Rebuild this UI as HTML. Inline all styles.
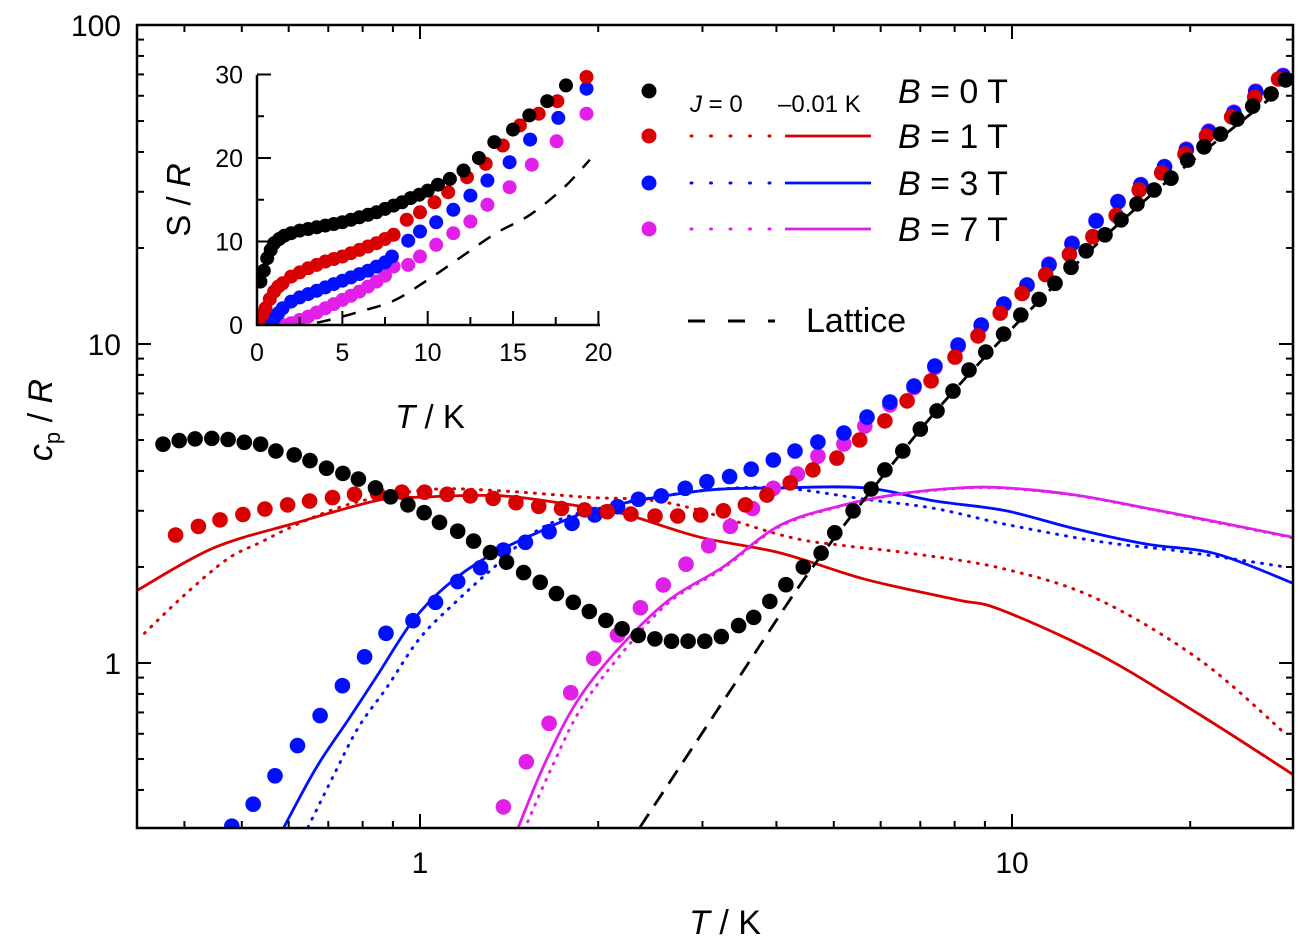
<!DOCTYPE html>
<html><head><meta charset="utf-8"><style>
body{margin:0;background:#fff;}
svg{display:block;font-family:"Liberation Sans",Arial,sans-serif;}
</style></head><body>
<svg id="chart" width="1301" height="944" viewBox="0 0 1301 944" xmlns="http://www.w3.org/2000/svg">
<defs>
<clipPath id="mainclip"><rect x="137" y="25" width="1156" height="803"/></clipPath>
<clipPath id="insetclip"><rect x="257" y="60" width="350" height="266"/></clipPath>
</defs>
<g id="main"></g>
<g id="inset"></g>
<g id="legend"></g>
</svg>
<script>
// ===== Main chart data (T in K, cp/R) =====
const b0T=[0.368,0.392,0.417,0.445,0.474,0.505,0.538,0.571,0.613,0.652,0.695,0.741,0.787,0.841,0.892,0.954,1.016,1.079,1.158,1.232,1.315,1.400,1.496,1.596,1.700,1.815,1.932,2.061,2.195,2.337,2.493,2.660,2.837,3.027,3.228,3.453,3.661,3.899,4.15,4.44,4.76,5.02,5.39,5.78,6.10,6.54,7.00,7.47,7.95,8.46,9.03,9.68,10.35,11.11,11.82,12.58,13.34,14.36,15.28,16.26,17.38,18.56,19.8,21.1,22.5,24.0,25.5,27.4,29.0];
const b0C=[4.85,4.98,5.04,5.06,5.02,4.92,4.85,4.62,4.49,4.31,4.08,3.93,3.77,3.54,3.32,3.13,2.96,2.76,2.59,2.41,2.22,2.07,1.92,1.79,1.65,1.55,1.45,1.36,1.28,1.22,1.19,1.17,1.17,1.17,1.21,1.31,1.39,1.56,1.76,2.00,2.21,2.56,3.00,3.51,4.03,4.62,5.41,6.17,7.12,8.29,9.44,10.75,12.33,13.8,15.5,17.4,19.6,22.0,24.5,27.5,30.4,33.1,37.7,41.5,45.5,50.7,55.7,60.8,67.3];
const b1T=[0.3865,0.4224,0.4594,0.5022,0.547,0.5976,0.651,0.7115,0.775,0.848,0.932,1.018,1.111,1.216,1.329,1.452,1.587,1.734,1.896,2.072,2.271,2.494,2.725,2.978,3.255,3.546,3.855,4.22,4.61,5.06,5.53,6.10,6.65,7.30,8.01,8.76,9.55,10.4,11.4,12.5,13.7,15.0,16.4,17.9,19.6,21.3,23.5,25.7,28.2];
const b1C=[2.52,2.68,2.81,2.92,3.04,3.13,3.22,3.30,3.38,3.40,3.43,3.43,3.38,3.34,3.28,3.18,3.10,3.05,3.02,2.98,2.93,2.89,2.89,2.91,3.00,3.13,3.36,3.67,4.03,4.39,5.00,5.74,6.63,7.66,9.10,10.6,12.5,14.4,16.5,19.1,21.7,25.3,30.4,34.4,39.4,44.9,51.5,59.4,67.7];
const b3T=[0.481,0.5226,0.569,0.621,0.678,0.7396,0.806,0.8762,0.973,1.062,1.158,1.266,1.383,1.507,1.652,1.806,1.973,2.156,2.338,2.555,2.805,3.052,3.334,3.626,3.951,4.30,4.70,5.20,5.69,6.22,6.83,7.41,8.11,8.87,9.69,10.6,11.55,12.63,13.87,15.1,16.5,18.1,19.7,21.5,23.7,25.8,28.7];
const b3C=[0.308,0.361,0.443,0.551,0.684,0.849,1.046,1.239,1.357,1.55,1.80,1.99,2.26,2.39,2.58,2.74,2.91,3.09,3.26,3.34,3.53,3.70,3.84,4.05,4.33,4.62,4.93,5.26,5.90,6.58,7.38,8.53,9.93,11.47,13.35,15.3,17.7,20.6,24.3,27.9,31.5,35.9,40.6,46.2,53.0,61.7,69.2];
const b7T=[1.383,1.512,1.652,1.797,1.966,2.156,2.357,2.576,2.814,3.074,3.345,3.644,3.951,4.34,4.70,5.20,5.64,6.22,6.83,7.41,8.11,8.87,9.69,10.6,11.55,12.63,13.87,15.1,16.5,18.1,19.7,21.5,23.7,25.8,28.7];
const b7C=[0.354,0.49,0.647,0.807,1.034,1.224,1.49,1.756,2.04,2.33,2.68,3.05,3.53,3.91,4.45,4.86,5.53,6.45,7.30,8.45,9.85,11.4,13.3,15.3,17.8,20.7,24.4,28.0,31.6,36.0,40.8,46.5,53.3,62.0,69.5];
// model curves
const r1SolidT=[0.333,0.447,0.617,0.852,1.0,1.381,1.907,2.246,2.97,4.07,5.65,8.04,9.55,14.08,20.8,29.9];
const r1SolidC=[1.69,2.29,2.75,3.24,3.31,3.34,3.08,2.91,2.48,2.21,1.83,1.58,1.47,1.06,0.687,0.446];
const r1DotT=[0.3425,0.3995,0.473,0.538,0.617,0.725,0.852,1.068,1.381,1.907,2.644,4.14,5.14,6.83,9.73,13.92,20.8,29.1];
const r1DotC=[1.24,1.63,2.12,2.39,2.71,3.06,3.31,3.51,3.46,3.31,3.17,2.50,2.34,2.20,1.97,1.59,1.02,0.595];
const b3SolidT=[0.588,0.669,0.762,0.852,0.969,1.102,1.298,1.576,1.907,2.353,3.10,4.07,5.65,7.41,9.77,12.83,16.84,22.1,29.8];
const b3SolidC=[0.304,0.472,0.677,0.930,1.344,1.73,2.15,2.56,2.97,3.24,3.49,3.54,3.54,3.22,3.00,2.63,2.36,2.20,1.78];
const b3DotT=[0.647,0.713,0.786,0.880,1.0,1.159,1.318,1.576,1.907,2.353,3.10,4.07,5.65,7.41,9.77,14.1,19.3,29.0];
const b3DotC=[0.306,0.44,0.626,0.841,1.198,1.576,1.957,2.60,3.0,3.25,3.49,3.54,3.26,3.05,2.72,2.40,2.24,2.0];
const m7SolidT=[1.464,1.626,1.849,2.177,2.634,3.25,4.07,5.28,6.47,8.17,9.77,12.83,16.84,22.1,29.8];
const m7SolidC=[0.304,0.486,0.766,1.122,1.576,2.0,2.71,3.15,3.39,3.54,3.54,3.36,3.06,2.77,2.48];
const m7DotT=[1.50,1.66,1.87,2.2,2.634,3.25,4.07,5.28,6.47,8.17,9.77,12.83,16.84,22.1,29.8];
const m7DotC=[0.30,0.46,0.72,1.08,1.55,1.98,2.69,3.14,3.38,3.53,3.53,3.35,3.05,2.76,2.47];
const latT=[2.353,3.365,4.49,5.80,7.86,11.6,17.1,29.0];
const latC=[0.306,0.835,1.87,3.49,6.92,14.8,29.1,64.4];
const xTicks=[1,10];
const yTicks=[1,10,100];

// ===== Inset data (T in K, S/R) =====
const iB0T=[0.2,0.4,0.6,0.8,1.0,1.3,1.6,2.0,2.5,3,3.5,4,4.5,5,5.5,6,6.5,7,7.5,8,8.5,9,9.5,10,10.6,11.3,12.1,13.0,13.9,15.0,15.95,17.0,18.1];
const iB0S=[5.2,6.5,8.0,9.0,9.8,10.3,10.7,11.0,11.3,11.5,11.7,11.9,12.1,12.3,12.6,12.9,13.2,13.5,13.9,14.3,14.7,15.2,15.6,16.1,16.8,17.5,18.5,20.0,21.9,23.4,25.1,26.8,28.7];
const iB1T=[0.1,0.3,0.5,0.75,1,1.25,1.5,2,2.5,3,3.5,4,4.5,5,5.5,6,6.5,7,7.5,8,8.77,9.55,10.4,11.2,12.3,13.4,14.4,15.4,16.5,17.6,19.3];
const iB1S=[0.2,1.2,2.0,3.1,4.0,4.6,5.0,5.8,6.3,6.8,7.2,7.6,7.9,8.2,8.6,9.0,9.4,9.8,10.3,10.8,12.6,13.5,14.7,15.9,17.7,19.3,21.5,23.9,25.3,26.8,29.7];
const iB3T=[0.5,0.8,1,1.25,1.5,2,2.5,3,3.5,4,4.5,5,5.5,6,6.5,7,7.5,7.9,8.86,9.55,10.5,11.5,12.5,13.5,14.8,16.0,17.65,19.3];
const iB3S=[0.0,0.4,0.8,1.4,2.0,2.8,3.3,3.7,4.1,4.5,4.9,5.3,5.7,6.1,6.5,7.0,7.5,8.2,10.1,11.2,12.3,13.8,15.5,17.3,19.5,22.2,24.8,28.3];
const iB7T=[1.5,2,2.5,3,3.5,4,4.5,5,5.5,6,6.5,7,7.5,8.0,8.86,9.55,10.5,11.5,12.5,13.5,14.8,16.1,17.55,19.3];
const iB7S=[0.0,0.2,0.6,1.0,1.5,2.0,2.5,3.0,3.5,4.0,4.6,5.2,5.9,7.0,7.2,8.2,9.6,11.0,12.4,14.4,16.5,19.2,22.0,25.3];
const iLatT=[2,3,4,5,6,8,10,12,14,16,18,19.5];
const iLatS=[0,0.1,0.5,1.0,1.6,2.9,5.4,8.2,11.0,13.2,16.5,19.8];
const iXTicks=[0,5,10,15,20];
const iYTicks=[0,10,20,30];

const NS="http://www.w3.org/2000/svg";
function mk(tag,attrs,parent){const e=document.createElementNS(NS,tag);for(const k in attrs)e.setAttribute(k,attrs[k]);if(parent)parent.appendChild(e);return e;}
function smoothPath(P){
  let d='M'+P[0][0].toFixed(1)+','+P[0][1].toFixed(1);
  for(let i=0;i<P.length-1;i++){
    const p0=P[Math.max(0,i-1)],p1=P[i],p2=P[i+1],p3=P[Math.min(P.length-1,i+2)];
    const c1=[p1[0]+(p2[0]-p0[0])/6,p1[1]+(p2[1]-p0[1])/6];
    const c2=[p2[0]-(p3[0]-p1[0])/6,p2[1]-(p3[1]-p1[1])/6];
    d+=' C'+c1[0].toFixed(1)+','+c1[1].toFixed(1)+' '+c2[0].toFixed(1)+','+c2[1].toFixed(1)+' '+p2[0].toFixed(1)+','+p2[1].toFixed(1);
  }
  return d;
}

// main axis functions
const X=t=>420+592*Math.log10(t);
const Y=c=>663-319*Math.log10(c);
const main=document.getElementById('main');
const plotG=mk('g',{'clip-path':'url(#mainclip)'},main);



function poly(T,C,color,dash,name,g,xf,yf,w){
  const d=smoothPath(T.map((t,i)=>[xf(t),yf(C[i])]));
  const p=mk('path',{d:d,fill:'none',stroke:color,'stroke-width':w||2.5,'stroke-dasharray':dash||'none','stroke-linecap':dash==='1 8'?'round':'butt'},g);
  
  
}
function pts(T,C,color,name,g,xf,yf,r){
  const gg=mk('g',{},g);
  
  
  T.forEach((t,i)=>{
    const c=mk('circle',{cx:xf(t).toFixed(1),cy:yf(C[i]).toFixed(1),r:r,fill:color},gg);
    
    
  });
}
const RED='#d80000',BLUE='#0010ff',MAG='#e020e8';
poly(r1DotT,r1DotC,RED,'1 8','red-dotted-j0',plotG,X,Y,3);
poly(b3DotT,b3DotC,BLUE,'1 8','blue-dotted-j0',plotG,X,Y,3);
poly(m7DotT,m7DotC,MAG,'1 8','magenta-dotted-j0',plotG,X,Y,3);
poly(r1SolidT,r1SolidC,RED,null,'red-solid-j001',plotG,X,Y,2.8);
poly(b3SolidT,b3SolidC,BLUE,null,'blue-solid-j001',plotG,X,Y,2.8);
poly(m7SolidT,m7SolidC,MAG,null,'magenta-solid-j001',plotG,X,Y,2.8);
poly(latT,latC,'#000','16 10','lattice-line',plotG,X,Y,2.8);
pts(b7T,b7C,MAG,'b7-points',plotG,X,Y,7.8);
pts(b3T,b3C,BLUE,'b3-points',plotG,X,Y,7.8);
pts(b1T,b1C,RED,'b1-points',plotG,X,Y,7.8);
pts(b0T,b0C,'#000','b0-points',plotG,X,Y,7.8);

// frame
const fr=mk('rect',{x:137,y:25,width:1156,height:803,fill:'none',stroke:'#000','stroke-width':2.5},main);


for(let dec=0.1;dec<=10;dec*=10){for(let m=1;m<10;m++){const v=dec*m;const x=X(v);if(x<137.5||x>1292.5)continue;
  const L=m===1?14:7;
  mk('line',{x1:x,y1:828,x2:x,y2:828-L,stroke:'#000','stroke-width':2},main);
  mk('line',{x1:x,y1:25,x2:x,y2:25+L,stroke:'#000','stroke-width':2},main);}}
for(let dec=0.1;dec<=10;dec*=10){for(let m=1;m<10;m++){const v=dec*m;const y=Y(v);if(y<25.5||y>827.5)continue;
  const L=m===1?14:7;
  mk('line',{x1:137,y1:y,x2:137+L,y2:y,stroke:'#000','stroke-width':2},main);
  mk('line',{x1:1293,y1:y,x2:1293-L,y2:y,stroke:'#000','stroke-width':2},main);}}
xTicks.forEach(v=>{const t=mk('text',{x:X(v),y:873,'font-size':30,'text-anchor':'middle'},main);t.textContent=v;
  
  });
yTicks.forEach(v=>{const t=mk('text',{x:121,y:Y(v)+11,'font-size':30,'text-anchor':'end'},main);t.textContent=v;
  
  });
</script>
<script>
(function(){
const main=document.getElementById('main');
function mk(tag,attrs,parent){const e=document.createElementNS(NS,tag);for(const k in attrs)e.setAttribute(k,attrs[k]);if(parent)parent.appendChild(e);return e;}
const xt=mk('text',{x:725,y:934,'font-size':34,'text-anchor':'middle'},main);
xt.innerHTML='<tspan font-style="italic">T</tspan> / K';


const yt=mk('text',{x:0,y:0,'font-size':34,'text-anchor':'middle',transform:'translate(52,420) rotate(-90)'},main);
yt.innerHTML='<tspan font-style="italic">c</tspan><tspan font-size="22" dy="8">p</tspan><tspan dy="-8"> / </tspan><tspan font-style="italic">R</tspan>';



const inset=document.getElementById('inset');
const IX=t=>257+t*17.07;
const IY=s=>325-s*8.35;
const ig=mk('g',{'clip-path':'url(#insetclip)'},inset);


function poly(T,C,color,dash,name){const d=smoothPath(T.map((t,i)=>[IX(t),IY(C[i])]));
  const p=mk('path',{d:d,fill:'none',stroke:color,'stroke-width':2.5,'stroke-dasharray':dash},ig);
  
  }
function pts(T,S,color,name){const g=mk('g',{},ig);
  
  
  T.forEach((t,i)=>{const c=mk('circle',{cx:IX(t).toFixed(1),cy:IY(S[i]).toFixed(1),r:7,fill:color},g);
    
    });}
poly(iLatT,iLatS,'#000','14 12','inset-lattice-line');
pts(iB7T,iB7S,'#e020e8','inset-b7-points');
pts(iB3T,iB3S,'#0010ff','inset-b3-points');
pts(iB1T,iB1S,'#d80000','inset-b1-points');
pts(iB0T,iB0S,'#000','inset-b0-points');
mk('line',{x1:257,y1:75,x2:257,y2:326,stroke:'#000','stroke-width':2.5},inset);
mk('line',{x1:256,y1:325,x2:600,y2:325,stroke:'#000','stroke-width':2.5},inset);
for(let v=0;v<=20;v+=2.5){const x=IX(v);mk('line',{x1:x,y1:325,x2:x,y2:v%5===0?311:317,stroke:'#000','stroke-width':2},inset);}
for(let v=0;v<=30;v+=5){const y=IY(v);mk('line',{x1:257,y1:y,x2:v%10===0?271:264,y2:y,stroke:'#000','stroke-width':2},inset);}
iXTicks.forEach(v=>{const t=mk('text',{x:IX(v),y:361,'font-size':25,'text-anchor':'middle'},inset);t.textContent=v;
  
  });
iYTicks.forEach(v=>{const t=mk('text',{x:243,y:IY(v)+9,'font-size':25,'text-anchor':'end'},inset);t.textContent=v;
  
  });
const ixt=mk('text',{x:430,y:428,'font-size':33,'text-anchor':'middle'},inset);
ixt.innerHTML='<tspan font-style="italic">T</tspan> / K';


const iyt=mk('text',{x:0,y:0,'font-size':33,'text-anchor':'middle',transform:'translate(190,200) rotate(-90)'},inset);
iyt.innerHTML='S / <tspan font-style="italic">R</tspan>';



const lg=document.getElementById('legend');
const rows=[['#000','0',91],['#d80000','1',136],['#0010ff','3',183],['#e020e8','7',229]];
rows.forEach((r,i)=>{
  const c=mk('circle',{cx:649,cy:r[2],r:7.5,fill:r[0]},lg);
  
  
  if(i>0){
    const d=mk('line',{x1:691,y1:r[2],x2:770,y2:r[2],stroke:r[0],'stroke-width':3,'stroke-dasharray':'1 18.5','stroke-linecap':'round'},lg);
    
    
    const s=mk('line',{x1:785,y1:r[2],x2:871,y2:r[2],stroke:r[0],'stroke-width':2.8},lg);
    
    
  }
  const t=mk('text',{x:898,y:r[2]+12,'font-size':34},lg);
  t.innerHTML='<tspan font-style="italic">B</tspan> = '+r[1]+' T';
  
  
});
const jt=mk('text',{x:690,y:112,'font-size':24},lg);
jt.innerHTML='<tspan font-style="italic">J</tspan> = 0';


const jt2=mk('text',{x:778,y:112,'font-size':24},lg);
jt2.textContent='\u20130.01 K';


const ll=mk('line',{x1:688,y1:321,x2:775,y2:321,stroke:'#000','stroke-width':3,'stroke-dasharray':'17 23'},lg);


const lt=mk('text',{x:806,y:332,'font-size':34},lg);
lt.textContent='Lattice';


})();
</script>
</body></html>
